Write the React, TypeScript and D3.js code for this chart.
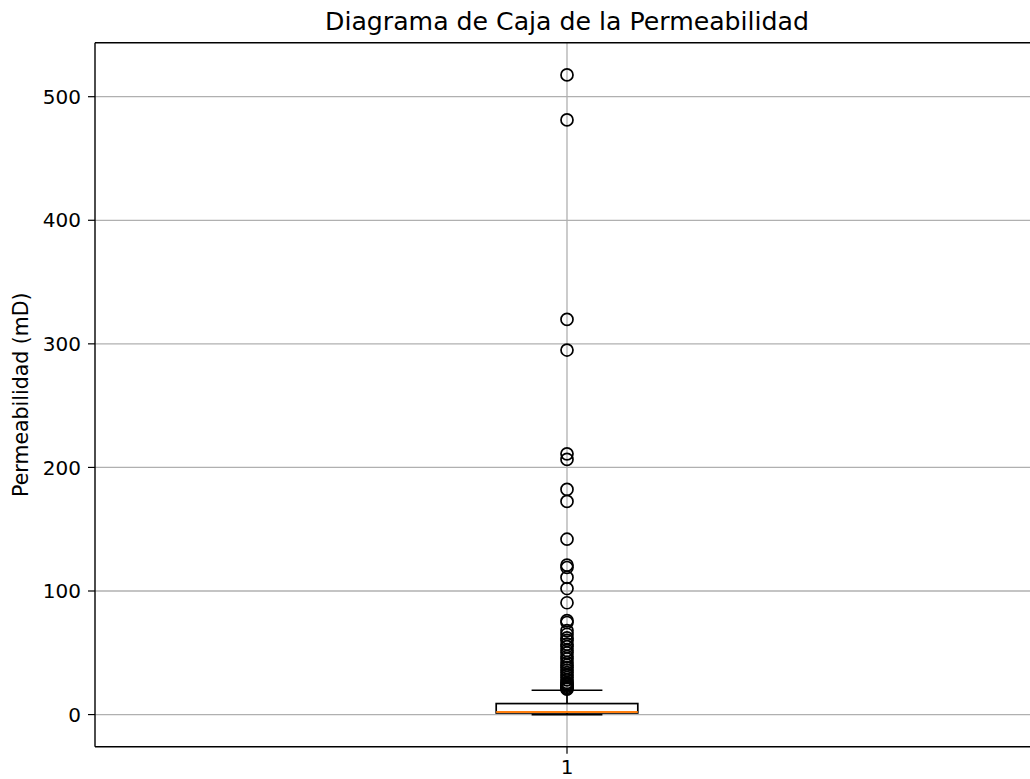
import { scaleLinear } from 'd3';

const categories = ['1'];
const yTicks = [0, 100, 200, 300, 400, 500];

// box summary (mD)
const boxStats = { whiskerLow: 0, q1: 1.3, median: 2.1, q3: 8.9, whiskerHigh: 19.7 };

const outliers = [
  517.6, 481.2, 319.8, 295.0, 211.0, 206.5, 182.2, 172.5, 141.9,
  121.0, 119.0, 111.0, 102.0, 90.5, 76.0, 74.5,
  68, 65, 62, 60, 57, 55, 52, 50, 47, 45, 42, 40, 38, 36, 34, 32,
  30, 28, 26, 25, 24, 23, 22, 21, 20.5,
];

const width = 1030;
const height = 779;
const margin = { top: 42.7, right: -9, bottom: 32.3, left: 95 };
const font = 'DejaVu Sans, sans-serif';

export default function App() {
  const x = scaleLinear()
    .domain([0.5, 1.5])
    .range([margin.left, width - margin.right]);
  const y = scaleLinear()
    .domain([-26, 543.7])
    .range([height - margin.bottom, margin.top]);

  const cx = x(1);
  const boxHalf = x(1.075) - x(1);
  const capHalf = x(1.0375) - x(1);
  const plotBottom = height - margin.bottom;

  return (
    <div style={{ position: 'fixed', left: 0, top: 0, background: '#fff' }}>
      <svg width={width} height={height} viewBox={`0 0 ${width} ${height}`} style={{ display: 'block' }}>
        <rect width={width} height={height} fill="#fff" />

        {/* grid */}
        {yTicks.map(t => (
          <line key={`g${t}`} x1={margin.left} x2={width} y1={y(t)} y2={y(t)} stroke="#b0b0b0" strokeWidth={1.3} />
        ))}
        <line x1={cx} x2={cx} y1={margin.top} y2={plotBottom} stroke="#b0b0b0" strokeWidth={1.3} />

        {/* whiskers */}
        <line x1={cx} x2={cx} y1={y(boxStats.q3)} y2={y(boxStats.whiskerHigh)} stroke="#000" strokeWidth={1.7} />
        <line x1={cx} x2={cx} y1={y(boxStats.q1)} y2={y(boxStats.whiskerLow)} stroke="#000" strokeWidth={1.7} />
        <line x1={cx - capHalf} x2={cx + capHalf} y1={y(boxStats.whiskerHigh)} y2={y(boxStats.whiskerHigh)} stroke="#000" strokeWidth={1.7} />
        <line x1={cx - capHalf} x2={cx + capHalf} y1={y(boxStats.whiskerLow)} y2={y(boxStats.whiskerLow)} stroke="#000" strokeWidth={1.7} />

        {/* box */}
        <rect
          x={cx - boxHalf}
          y={y(boxStats.q3)}
          width={boxHalf * 2}
          height={y(boxStats.q1) - y(boxStats.q3)}
          fill="none"
          stroke="#000"
          strokeWidth={1.7}
        />
        <line x1={cx - boxHalf} x2={cx + boxHalf} y1={y(boxStats.median)} y2={y(boxStats.median)} stroke="#ff7f0e" strokeWidth={2} />

        {/* fliers */}
        {outliers.map((v, i) => (
          <circle key={i} cx={cx} cy={y(v)} r={6} fill="none" stroke="#000" strokeWidth={1.7} />
        ))}

        {/* spines */}
        <line x1={margin.left} x2={margin.left} y1={margin.top} y2={plotBottom} stroke="#000" strokeWidth={1.4} />
        <line x1={margin.left} x2={width} y1={margin.top} y2={margin.top} stroke="#000" strokeWidth={1.4} />
        <line x1={margin.left} x2={width} y1={plotBottom} y2={plotBottom} stroke="#000" strokeWidth={1.4} />

        {/* y axis */}
        {yTicks.map(t => (
          <g key={`t${t}`}>
            <line x1={margin.left - 7} x2={margin.left} y1={y(t)} y2={y(t)} stroke="#000" strokeWidth={1.2} />
            <text x={margin.left - 14} y={y(t)} dy="0.36em" textAnchor="end" fontFamily={font} fontSize={20} fill="#000">
              {t}
            </text>
          </g>
        ))}

        {/* x axis */}
        {categories.map((c, i) => (
          <g key={c}>
            <line x1={x(i + 1)} x2={x(i + 1)} y1={plotBottom} y2={plotBottom + 7} stroke="#000" strokeWidth={1.2} />
            <text x={x(i + 1)} y={plotBottom + 27.5} textAnchor="middle" fontFamily={font} fontSize={20} fill="#000">
              {c}
            </text>
          </g>
        ))}

        <text
          transform={`translate(28, ${(margin.top + plotBottom) / 2}) rotate(-90)`}
          textAnchor="middle"
          fontFamily={font}
          fontSize={20.5}
          fill="#000"
        >
          Permeabilidad (mD)
        </text>

        <text x={cx} y={30} textAnchor="middle" fontFamily={font} fontSize={25.2} fill="#000">
          Diagrama de Caja de la Permeabilidad
        </text>
      </svg>
    </div>
  );
}
